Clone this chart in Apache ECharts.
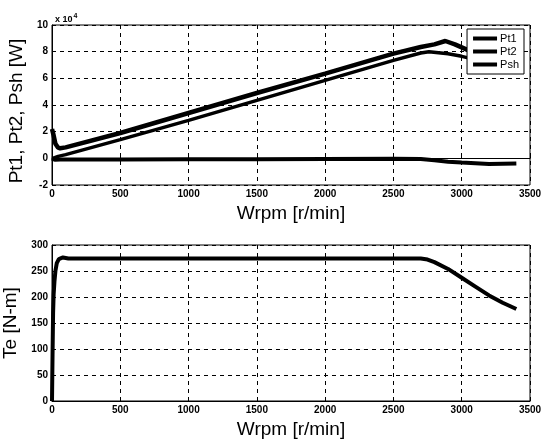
<!DOCTYPE html>
<html><head><meta charset="utf-8">
<script src="https://cdn.jsdelivr.net/npm/echarts@6/dist/echarts.min.js"></script>
<style>html,body{margin:0;padding:0;background:#fff}#c{width:541px;height:441px}</style>
</head><body><div id="c"></div>
<script>
// Top plot: power curves (W) vs speed (r/min)
const pt1Rpm = [0, 10, 25, 45, 60, 100, 500, 1000, 1500, 2000, 2500, 2700, 2800, 2880, 2950, 3050, 3150, 3250, 3400];
const pt1Val = [22000, 18000, 11000, 8000, 7500, 8200, 19000, 34000, 49000, 63500, 78500, 83500, 85500, 88000, 85500, 81000, 76500, 72000, 66000];
const pshRpm = [0, 20, 45, 100, 500, 1000, 1500, 2000, 2500, 2700, 2760, 2900, 3000, 3100, 3200, 3300, 3400];
const pshVal = [0, 500, 1500, 2800, 14000, 28500, 43500, 58500, 73500, 79000, 80000, 78500, 76500, 74000, 71000, 68000, 64500];
const pt2Rpm = [0, 5, 20, 60, 500, 1000, 1500, 2000, 2500, 2700, 2800, 2900, 3000, 3100, 3200, 3300, 3400];
const pt2Val = [0, -1500, -1000, -800, -800, -700, -600, -500, -400, -500, -1500, -2500, -3200, -3700, -4200, -4000, -3800];
// Bottom plot: torque (N-m) vs speed
const teRpm = [0, 4, 8, 12, 18, 25, 35, 50, 80, 120, 500, 1000, 1500, 2000, 2500, 2700, 2750, 2800, 2900, 3000, 3100, 3200, 3300, 3400];
const teVal = [0, 90, 170, 205, 230, 250, 265, 273, 276, 274, 274, 274, 274, 274, 274, 274, 272, 267, 254, 237, 220, 203, 189, 177];
const xTicks = [0, 500, 1000, 1500, 2000, 2500, 3000, 3500];
const seriesNames = ['Pt1', 'Pt2', 'Psh'];

const pair = (xs, ys) => xs.map((x, i) => [x, ys[i]]);
const FONT = 'Liberation Sans, Arial, sans-serif';
const dashed = {show: true, lineStyle: {color: '#000', type: [4, 4], width: 1}};
function xAx(gi) {
  return {gridIndex: gi, type: 'value', min: xTicks[0], max: xTicks[xTicks.length - 1], interval: xTicks[1] - xTicks[0],
    name: 'Wrpm [r/min]', nameLocation: 'middle', nameGap: 19,
    nameTextStyle: {fontFamily: FONT, fontSize: 19, color: '#000'},
    axisLine: {lineStyle: {color: '#000', width: 1}},
    axisTick: {inside: true, length: 4, lineStyle: {color: '#000'}},
    axisLabel: {fontFamily: FONT, fontSize: 10, fontWeight: 'bold', color: '#000', margin: 4, formatter: v => String(v)},
    splitLine: dashed};
}
const chart = echarts.init(document.getElementById('c'), null, {renderer: 'canvas'});
chart.setOption({
  animation: false,
  backgroundColor: '#fff',
  grid: [
    {left: 52, right: 11, top: 25, height: 160, show: true, borderColor: '#000', borderWidth: 1, backgroundColor: '#fff', outerBoundsMode: 'none', containLabel: false},
    {left: 52, right: 11, top: 245, height: 156, show: true, borderColor: '#000', borderWidth: 1, backgroundColor: '#fff', outerBoundsMode: 'none', containLabel: false}
  ],
  title: {left: 50, top: 8, text: '{a|x 10}{b|4}',
    textStyle: {rich: {a: {fontFamily: FONT, fontSize: 9, fontWeight: 'bold', color: '#000'},
      b: {fontFamily: FONT, fontSize: 7, fontWeight: 'bold', color: '#000', verticalAlign: 'top', padding: [0, 0, 6, 1]}}}},
  legend: {data: seriesNames, orient: 'vertical', right: 17, top: 29, itemGap: 2, padding: [4, 5, 4, 6],
    backgroundColor: '#fff', borderColor: '#000', borderWidth: 1, borderRadius: 0,
    icon: 'rect', itemWidth: 24, itemHeight: 4,
    textStyle: {fontFamily: FONT, fontSize: 11, color: '#000', padding: [0, 0, 0, -2]}},
  xAxis: [xAx(0), xAx(1)],
  yAxis: [
    {gridIndex: 0, type: 'value', min: -20000, max: 100000, interval: 20000,
      name: 'Pt1, Pt2, Psh [W]', nameLocation: 'middle', nameGap: 24,
      nameTextStyle: {fontFamily: FONT, fontSize: 19, color: '#000', padding: [0, 0, 0, -12]},
      axisLine: {show: true, lineStyle: {color: '#000'}},
      axisTick: {inside: true, length: 4, lineStyle: {color: '#000'}},
      axisLabel: {fontFamily: FONT, fontSize: 10, fontWeight: 'bold', color: '#000', margin: 4, formatter: v => String(v / 10000)},
      splitLine: dashed},
    {gridIndex: 1, type: 'value', min: 0, max: 300, interval: 50,
      name: 'Te [N-m]', nameLocation: 'middle', nameGap: 26,
      nameTextStyle: {fontFamily: FONT, fontSize: 19, color: '#000'},
      axisLine: {show: true, lineStyle: {color: '#000'}},
      axisTick: {inside: true, length: 4, lineStyle: {color: '#000'}},
      axisLabel: {fontFamily: FONT, fontSize: 10, fontWeight: 'bold', color: '#000', margin: 4},
      splitLine: dashed}
  ],
  series: [
    {name: 'Pt1', type: 'line', xAxisIndex: 0, yAxisIndex: 0, showSymbol: false, data: pair(pt1Rpm, pt1Val),
      lineStyle: {color: '#000', width: 4.5}, itemStyle: {color: '#000'}},
    {name: 'Pt2', type: 'line', xAxisIndex: 0, yAxisIndex: 0, showSymbol: false, data: pair(pt2Rpm, pt2Val),
      lineStyle: {color: '#000', width: 4}, itemStyle: {color: '#000'}},
    {name: 'Psh', type: 'line', xAxisIndex: 0, yAxisIndex: 0, showSymbol: false, data: pair(pshRpm, pshVal),
      lineStyle: {color: '#000', width: 3.5}, itemStyle: {color: '#000'}},
    {name: 'Te', type: 'line', xAxisIndex: 1, yAxisIndex: 1, showSymbol: false, data: pair(teRpm, teVal),
      lineStyle: {color: '#000', width: 4}, itemStyle: {color: '#000'}}
  ]
});
</script></body></html>
